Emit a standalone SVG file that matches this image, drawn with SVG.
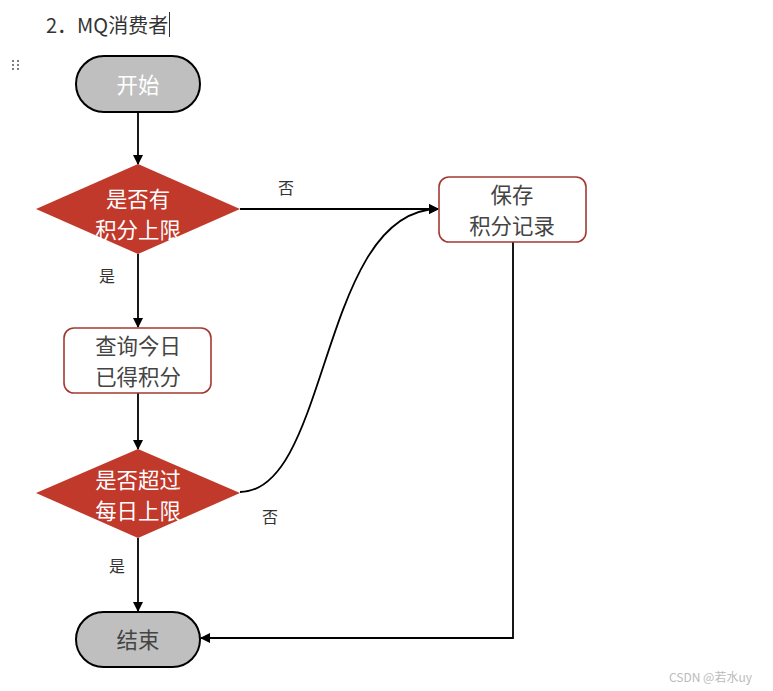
<svg xmlns="http://www.w3.org/2000/svg" width="773" height="691" viewBox="0 0 773 691">
<defs>
<marker id="ah" viewBox="0 0 10 10" refX="9" refY="5" markerWidth="10" markerHeight="10" markerUnits="userSpaceOnUse" orient="auto">
<path d="M0,0 L10,5 L0,10 z" fill="#000"/>
</marker>
<style>
.t{font-family:"Noto Sans CJK SC","Liberation Sans",sans-serif;}
.pill{fill:#bfbfbf;stroke:#000;stroke-width:2;}
.dia{fill:#c0392b;stroke:none;}
.box{fill:#fff;stroke:#a33a32;stroke-width:1.6;}
.wt{fill:#fff;font-size:21.4px;text-anchor:middle;}
.gt{fill:#444;font-size:21.4px;text-anchor:middle;}
.lb{fill:#333;font-size:16px;text-anchor:middle;}
.ln{fill:none;stroke:#000;stroke-width:1.8;marker-end:url(#ah);}
</style>
</defs>
<rect width="773" height="691" fill="#fff"/>
<text class="t" x="46" y="33" font-size="20" fill="#333">2．MQ消费者</text>
<line x1="169.5" y1="12" x2="169.5" y2="37" stroke="#333" stroke-width="1"/>
<g fill="#555">
<circle cx="13" cy="61" r="1"/><circle cx="18" cy="61" r="1"/>
<circle cx="13" cy="65" r="1"/><circle cx="18" cy="65" r="1"/>
<circle cx="13" cy="69" r="1"/><circle cx="18" cy="69" r="1"/>
</g>
<g id="connectors">
<line class="ln" x1="138" y1="112" x2="138" y2="164"/>
<line class="ln" x1="240" y1="209" x2="438" y2="209"/>
<line class="ln" x1="138" y1="254" x2="138" y2="327"/>
<line class="ln" x1="138" y1="393" x2="138" y2="449"/>
<path class="ln" d="M240,492 C330,492 320,210 438,209"/>
<line class="ln" x1="138" y1="538" x2="138" y2="611"/>
<polyline class="ln" points="513,242 513,638 201,638"/>
<text class="t lb" x="286" y="194">否</text>
<text class="t lb" x="107" y="282">是</text>
<text class="t lb" x="270" y="523">否</text>
<text class="t lb" x="117" y="572">是</text>
</g>
<g id="start">
<rect class="pill" x="76" y="56" width="124" height="56" rx="28"/>
<text class="t wt" x="138" y="93" font-size="25">开始</text>
</g>
<g id="dec1">
<polygon class="dia" points="138,164 240,209 138,254 36,209"/>
<text class="t wt" x="138" y="207">是否有</text>
<text class="t wt" x="138" y="238">积分上限</text>
</g>
<g id="save">
<rect class="box" x="439" y="177" width="147" height="65" rx="10"/>
<text class="t gt" x="512" y="203">保存</text>
<text class="t gt" x="512" y="234">积分记录</text>
</g>
<g id="query">
<rect class="box" x="64" y="328" width="147" height="65" rx="10"/>
<text class="t gt" x="138" y="354">查询今日</text>
<text class="t gt" x="138" y="385">已得积分</text>
</g>
<g id="dec2">
<polygon class="dia" points="138,449 240,493 138,538 36,493"/>
<text class="t wt" x="138" y="488">是否超过</text>
<text class="t wt" x="138" y="519">每日上限</text>
</g>
<g id="end">
<rect class="pill" x="76" y="612" width="124" height="55" rx="27.5"/>
<text class="t gt" x="138" y="648" font-size="25" fill="#555">结束</text>
</g>
<text class="t" x="669" y="682" font-size="12" fill="#bbb">CSDN @若水uy</text>
</svg>
